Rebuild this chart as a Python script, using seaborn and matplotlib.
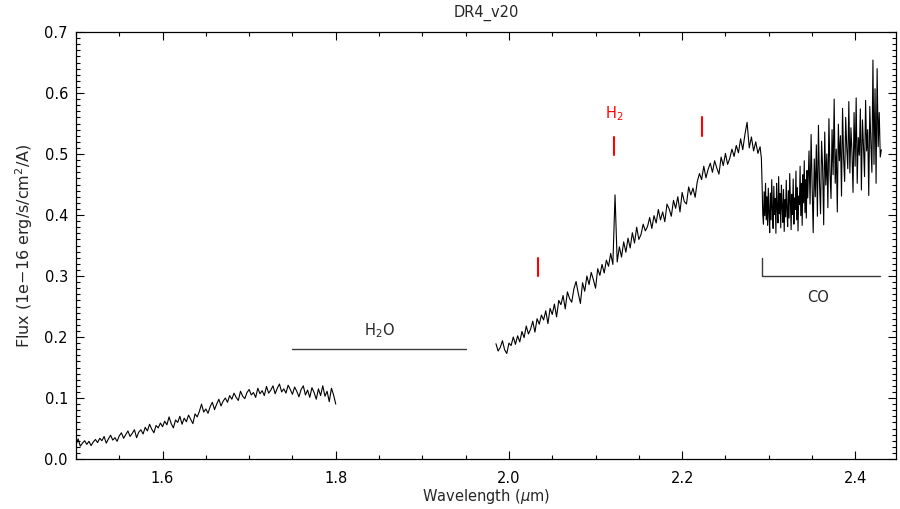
import numpy as np
import pandas as pd
import matplotlib
matplotlib.use("Agg")
import matplotlib.pyplot as plt
from matplotlib.ticker import MultipleLocator, FormatStrFormatter
import seaborn as sns

# ---------------- data ----------------
# segment 1: 1.500 - 1.800 um
wl1_start, wl1_end = 1.500, 1.800
flux1 = [
    0.023, 0.033, 0.021, 0.026, 0.030, 0.024, 0.029, 0.022, 0.028, 0.032,
    0.027, 0.034, 0.030, 0.037, 0.026, 0.033, 0.039, 0.031, 0.035, 0.029,
    0.038, 0.043, 0.034, 0.040, 0.046, 0.037, 0.042, 0.048, 0.035, 0.044,
    0.048, 0.041, 0.052, 0.046, 0.057, 0.049, 0.043, 0.055, 0.051, 0.059,
    0.053, 0.062, 0.056, 0.069, 0.058, 0.051, 0.064, 0.060, 0.070, 0.057,
    0.067, 0.061, 0.072, 0.065, 0.058, 0.074, 0.069, 0.078, 0.090, 0.077,
    0.082, 0.075, 0.086, 0.093, 0.081, 0.090, 0.098, 0.087, 0.095, 0.100,
    0.093, 0.104, 0.098, 0.108, 0.101, 0.096, 0.111, 0.103, 0.099, 0.109,
    0.114, 0.105, 0.109, 0.101, 0.116, 0.107, 0.112, 0.104, 0.119, 0.108,
    0.113, 0.120, 0.107, 0.116, 0.123, 0.110, 0.115, 0.108, 0.121, 0.114,
    0.106, 0.118, 0.111, 0.102, 0.114, 0.120, 0.105, 0.113, 0.101, 0.117,
    0.109, 0.098, 0.115, 0.104, 0.120, 0.103, 0.111, 0.094, 0.116, 0.105,
    0.090,
]
# segment 2a: 1.985 - 2.290 um
wl2_start, wl2_end = 1.985, 2.290
flux2 = [
    0.189, 0.177, 0.183, 0.194, 0.179, 0.173, 0.190, 0.186, 0.200, 0.188,
    0.202, 0.192, 0.209, 0.199, 0.218, 0.205, 0.213, 0.226, 0.208, 0.230,
    0.221, 0.236, 0.228, 0.243, 0.222, 0.247, 0.237, 0.254, 0.233, 0.260,
    0.253, 0.268, 0.246, 0.274, 0.263, 0.257, 0.279, 0.291, 0.272, 0.255,
    0.289, 0.275, 0.300, 0.286, 0.306, 0.294, 0.280, 0.312, 0.301, 0.319,
    0.305, 0.326, 0.316, 0.337, 0.319, 0.433, 0.323, 0.348, 0.331, 0.356,
    0.339, 0.362, 0.346, 0.371, 0.354, 0.380, 0.360, 0.368, 0.385, 0.374,
    0.381, 0.396, 0.378, 0.399, 0.387, 0.409, 0.392, 0.405, 0.389, 0.418,
    0.410, 0.398, 0.424, 0.411, 0.430, 0.405, 0.437, 0.422, 0.418, 0.446,
    0.433, 0.444, 0.429, 0.455, 0.468, 0.458, 0.480, 0.461, 0.475, 0.485,
    0.470, 0.489, 0.477, 0.467, 0.495, 0.481, 0.501, 0.483, 0.493, 0.508,
    0.496, 0.514, 0.502, 0.525, 0.507, 0.532, 0.552, 0.510, 0.528, 0.505,
    0.520, 0.501, 0.512,
]
# segment 2b (CO bandhead, dense noisy part): 2.2915 - 2.345 um
wl3_start, wl3_end = 2.2915, 2.345
flux3 = [
    0.493, 0.452, 0.401, 0.385, 0.438, 0.399, 0.452, 0.392, 0.430, 0.383,
    0.444, 0.404, 0.371, 0.436, 0.392, 0.458, 0.410, 0.378, 0.447, 0.401,
    0.427, 0.370, 0.452, 0.412, 0.387, 0.463, 0.402, 0.435, 0.379, 0.449,
    0.414, 0.388, 0.442, 0.373, 0.425, 0.397, 0.457, 0.408, 0.381, 0.440,
    0.395, 0.468, 0.418, 0.376, 0.434, 0.401, 0.459, 0.385, 0.428, 0.409,
    0.472, 0.392, 0.445, 0.374, 0.431, 0.417, 0.480, 0.399, 0.452, 0.383,
    0.466, 0.420, 0.489, 0.404, 0.458, 0.395, 0.473, 0.428,
]
# segment 2c (CO band, rising part): 2.3465 - 2.430 um
wl4_start, wl4_end = 2.3465, 2.430
flux4 = [
    0.505, 0.418, 0.532, 0.446, 0.371, 0.492, 0.430, 0.515, 0.398, 0.547,
    0.455, 0.402, 0.521, 0.478, 0.384, 0.536, 0.449, 0.500, 0.412, 0.558,
    0.470, 0.427, 0.540, 0.466, 0.590, 0.452, 0.508, 0.405, 0.549, 0.489,
    0.530, 0.431, 0.575, 0.494, 0.455, 0.560, 0.511, 0.476, 0.586, 0.469,
    0.543, 0.503, 0.437, 0.568, 0.480, 0.592, 0.452, 0.527, 0.498, 0.574,
    0.441, 0.556, 0.512, 0.463, 0.588, 0.505, 0.540, 0.432, 0.578, 0.519,
    0.470, 0.654, 0.483, 0.607, 0.452, 0.640, 0.512, 0.568, 0.495, 0.507,
]

# feature markers
h2_lines = [2.0338, 2.1218, 2.2233]
h2_marks_lo = [0.300, 0.498, 0.530]
h2_marks_hi = [0.330, 0.528, 0.561]
h2o_band = [1.75, 1.95]
h2o_level = 0.18
co_band = [2.292, 2.428]
co_level = 0.30
co_top = 0.33

# ---------------- build frames ----------------
seg1 = pd.DataFrame({"wl": np.linspace(wl1_start, wl1_end, len(flux1)), "flux": flux1})
seg2 = pd.DataFrame({
    "wl": np.concatenate([np.linspace(wl2_start, wl2_end, len(flux2)),
                          np.linspace(wl3_start, wl3_end, len(flux3)),
                          np.linspace(wl4_start, wl4_end, len(flux4))]),
    "flux": flux2 + flux3 + flux4,
})

# ---------------- style ----------------
sns.set_style("ticks")
plt.rcParams["font.family"] = ["DejaVu Sans"]
plt.rcParams["mathtext.fontset"] = "dejavusans"

FS = 10.5
fig = plt.figure(figsize=(9.0, 5.09), dpi=100)
ax = fig.add_axes([0.0844, 0.0982, 0.9112, 0.8389])

sns.lineplot(data=seg1, x="wl", y="flux", ax=ax, color="black", lw=0.8,
             estimator=None, sort=False)
sns.lineplot(data=seg2, x="wl", y="flux", ax=ax, color="black", lw=0.8,
             estimator=None, sort=False)

# annotations
gray = "#3a3a3a"
ax.plot(h2o_band, [h2o_level, h2o_level], color=gray, lw=1.0)
ax.text(np.mean(h2o_band), 0.211, "H$_2$O", ha="center", va="center", fontsize=FS)

ax.plot([co_band[0], co_band[0], co_band[1]], [co_top, co_level, co_level],
        color=gray, lw=1.0)
ax.text(2.357, 0.264, "CO", ha="center", va="center", fontsize=FS)

for x, lo, hi in zip(h2_lines, h2_marks_lo, h2_marks_hi):
    ax.plot([x, x], [lo, hi], color="red", lw=1.5)
ax.text(h2_lines[1], 0.566, "H$_2$", color="red", ha="center", va="center", fontsize=FS)

# axes
ax.set_xlim(1.5, 2.447)
ax.set_ylim(0.0, 0.7)
ax.xaxis.set_major_locator(MultipleLocator(0.2))
ax.xaxis.set_minor_locator(MultipleLocator(0.05))
ax.yaxis.set_major_locator(MultipleLocator(0.1))
ax.yaxis.set_minor_locator(MultipleLocator(0.01))
ax.xaxis.set_major_formatter(FormatStrFormatter("%.1f"))
ax.yaxis.set_major_formatter(FormatStrFormatter("%.1f"))
ax.tick_params(which="both", direction="in", top=True, right=True,
               labelsize=FS, width=0.8, colors="black")
ax.tick_params(which="major", length=6)
ax.tick_params(which="minor", length=3)
ax.tick_params(axis="x", which="major", pad=8.5)
ax.tick_params(axis="y", which="major", pad=5.8)
for s in ax.spines.values():
    s.set_linewidth(0.9)
    s.set_color("black")
    s.set_visible(True)

ax.set_xlabel(r"Wavelength ($\mu$m)", fontsize=FS, labelpad=1.0)
ax.set_ylabel("Flux (1e\u221216 erg/s/cm$^2$/A)", fontsize=11.5, labelpad=7)
ax.set_title("DR4_v20", fontsize=FS, pad=11)

fig.savefig("out.png", dpi=100)
